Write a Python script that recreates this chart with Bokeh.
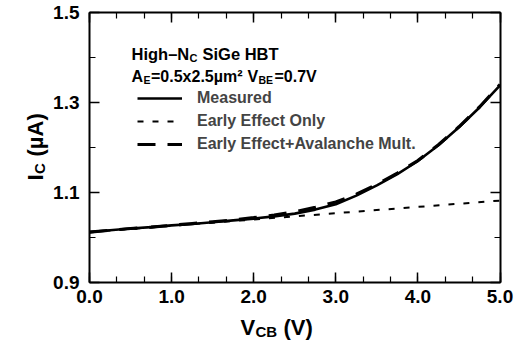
from bokeh.plotting import figure
from bokeh.models import (FixedTicker, LinearAxis, Label, Legend, LegendItem, Range1d)
from bokeh.embed import file_html
from bokeh.resources import INLINE
from math import pi

# ---- data ----
v_cb = [0.0, 0.25, 0.5, 0.75, 1.0, 1.25, 1.5, 1.75, 2.0, 2.25, 2.5, 2.75,
        3.0, 3.25, 3.5, 3.75, 4.0, 4.25, 4.5, 4.75, 5.0]
ic_measured = [1.012, 1.016, 1.020, 1.023, 1.027, 1.030, 1.034, 1.038, 1.042,
               1.047, 1.053, 1.062, 1.074, 1.093, 1.116, 1.141, 1.170, 1.205,
               1.245, 1.289, 1.338]
ic_aval = [1.012, 1.016, 1.020, 1.023, 1.027, 1.031, 1.035, 1.039, 1.044,
           1.050, 1.057, 1.067, 1.079, 1.096, 1.118, 1.143, 1.171, 1.206,
           1.246, 1.290, 1.340]
v_early = [0.0, 1.0, 2.0, 3.0, 4.0, 5.0]
ic_early = [1.012, 1.026, 1.040, 1.054, 1.068, 1.082]

x_major = [0.0, 1.0, 2.0, 3.0, 4.0, 5.0]
x_labels = ["0.0", "1.0", "2.0", "3.0", "4.0", "5.0"]
y_major = [0.9, 1.1, 1.3, 1.5]
y_labels = ["0.9", "1.1", "1.3", "1.5"]
y_minor = [0.9, 1.0, 1.1, 1.2, 1.3, 1.4, 1.5]
legend_labels = ["Measured", "Early Effect Only", "Early Effect+Avalanche Mult."]

X0, X1 = 0.0, 5.0
Y0, Y1 = 0.9, 1.5
FONT = "Liberation Sans"
W, H = 526, 352
# plot box in pixels: left 89, right 499.5, top 12, bottom 282
L, R, T, B = 89.0, 499.5, 12.0, 282.0
sx = (R - L) / (X1 - X0)
sy = (B - T) / (Y1 - Y0)

p = figure(width=W, height=H, output_backend="svg", toolbar_location=None,
           x_range=Range1d(X0 - L / sx, X0 + (W - L) / sx),
           y_range=Range1d(Y1 - (H - T) / sy, Y1 + T / sy),
           x_axis_type=None, y_axis_type=None,
           min_border=0)
p.background_fill_color = "white"
p.border_fill_color = "white"
p.outline_line_color = None
p.xgrid.visible = False
p.ygrid.visible = False

x_minor = [i / 3 for i in range(16)]


def style(ax, labels=True):
    ax.axis_line_color = "black"
    ax.axis_line_width = 2
    ax.major_tick_in = 10
    ax.major_tick_out = 0
    ax.minor_tick_in = 6
    ax.minor_tick_out = 0
    ax.major_tick_line_width = 1.5
    ax.minor_tick_line_width = 1.2
    ax.major_tick_line_color = "black"
    ax.minor_tick_line_color = "black"
    ax.major_label_text_font = FONT
    ax.major_label_text_font_style = "bold"
    ax.major_label_text_font_size = "19px"
    ax.major_label_text_color = "black" if labels else None


xb = LinearAxis(ticker=FixedTicker(ticks=x_major, minor_ticks=x_minor),
                major_label_overrides=dict(zip(x_major, x_labels)),
                fixed_location=Y0, bounds=(X0, X1))
style(xb)
xb.major_label_standoff = 7
p.add_layout(xb, "below")
xt = LinearAxis(ticker=FixedTicker(ticks=x_major, minor_ticks=x_minor),
                fixed_location=Y1, bounds=(X0, X1))
style(xt, labels=False)
p.add_layout(xt, "above")

yl = LinearAxis(ticker=FixedTicker(ticks=y_major, minor_ticks=y_minor),
                major_label_overrides=dict(zip(y_major, y_labels)),
                fixed_location=X0, bounds=(Y0, Y1))
style(yl)
yl.major_label_standoff = 10
p.add_layout(yl, "left")
yr = LinearAxis(ticker=FixedTicker(ticks=y_major, minor_ticks=y_minor),
                fixed_location=X1, bounds=(Y0, Y1))
style(yr, labels=False)
p.add_layout(yr, "right")

r_meas = p.line(v_cb, ic_measured, line_color="black", line_width=2.6)
r_early = p.line(v_early, ic_early, line_color="black", line_width=2,
                 line_dash="6 9")
r_aval = p.line(v_cb, ic_aval, line_color="black", line_width=3.2,
                line_dash="18 12")

legend = Legend(items=[LegendItem(label=legend_labels[0], renderers=[r_meas]),
                       LegendItem(label=legend_labels[1], renderers=[r_early]),
                       LegendItem(label=legend_labels[2], renderers=[r_aval])],
                location=(137, H - 154), padding=0, margin=0, spacing=3,
                glyph_width=45, glyph_height=20, label_height=20,
                label_standoff=15, border_line_alpha=0,
                background_fill_alpha=0,
                label_text_font=FONT, label_text_font_style="bold",
                label_text_font_size="16px")
p.add_layout(legend, "center")


def lab(x, y, text, size, angle=0.0):
    # x, y: canvas pixels from the left / top edge
    p.add_layout(Label(x=x, y=H - y, x_units="screen", y_units="screen",
                       text=text, text_font=FONT, text_font_style="bold",
                       text_font_size=size, text_color="black", angle=angle,
                       text_baseline="alphabetic", text_align="left"))


# header text
lab(131, 53, "High\u2013N", "16.5px")
lab(189, 57, "C", "11px")
lab(202, 53, "SiGe HBT", "16.5px")
lab(131, 75.5, "A", "16px")
lab(143, 79.5, "E", "10.5px")
lab(150.5, 75.5, "=0.5x2.5\u00b5m\u00b2", "16px")
lab(247, 75.5, "V", "16px")
lab(258, 79.5, "BE", "10.5px")
lab(274, 75.5, "=0.7V", "16px")

# x axis title
lab(240, 327, "V", "22px")
lab(255, 331, "CB", "15px")
lab(283, 327, "(V)", "22px")

# y axis title (rotated, reading upwards)
lab(35, 180, "I", "22px", pi / 2)
lab(39, 173.5, "C", "15px", pi / 2)
lab(35, 156, "(\u00b5A)", "22px", pi / 2)

open("out.html", "w").write(file_html(p, INLINE))
